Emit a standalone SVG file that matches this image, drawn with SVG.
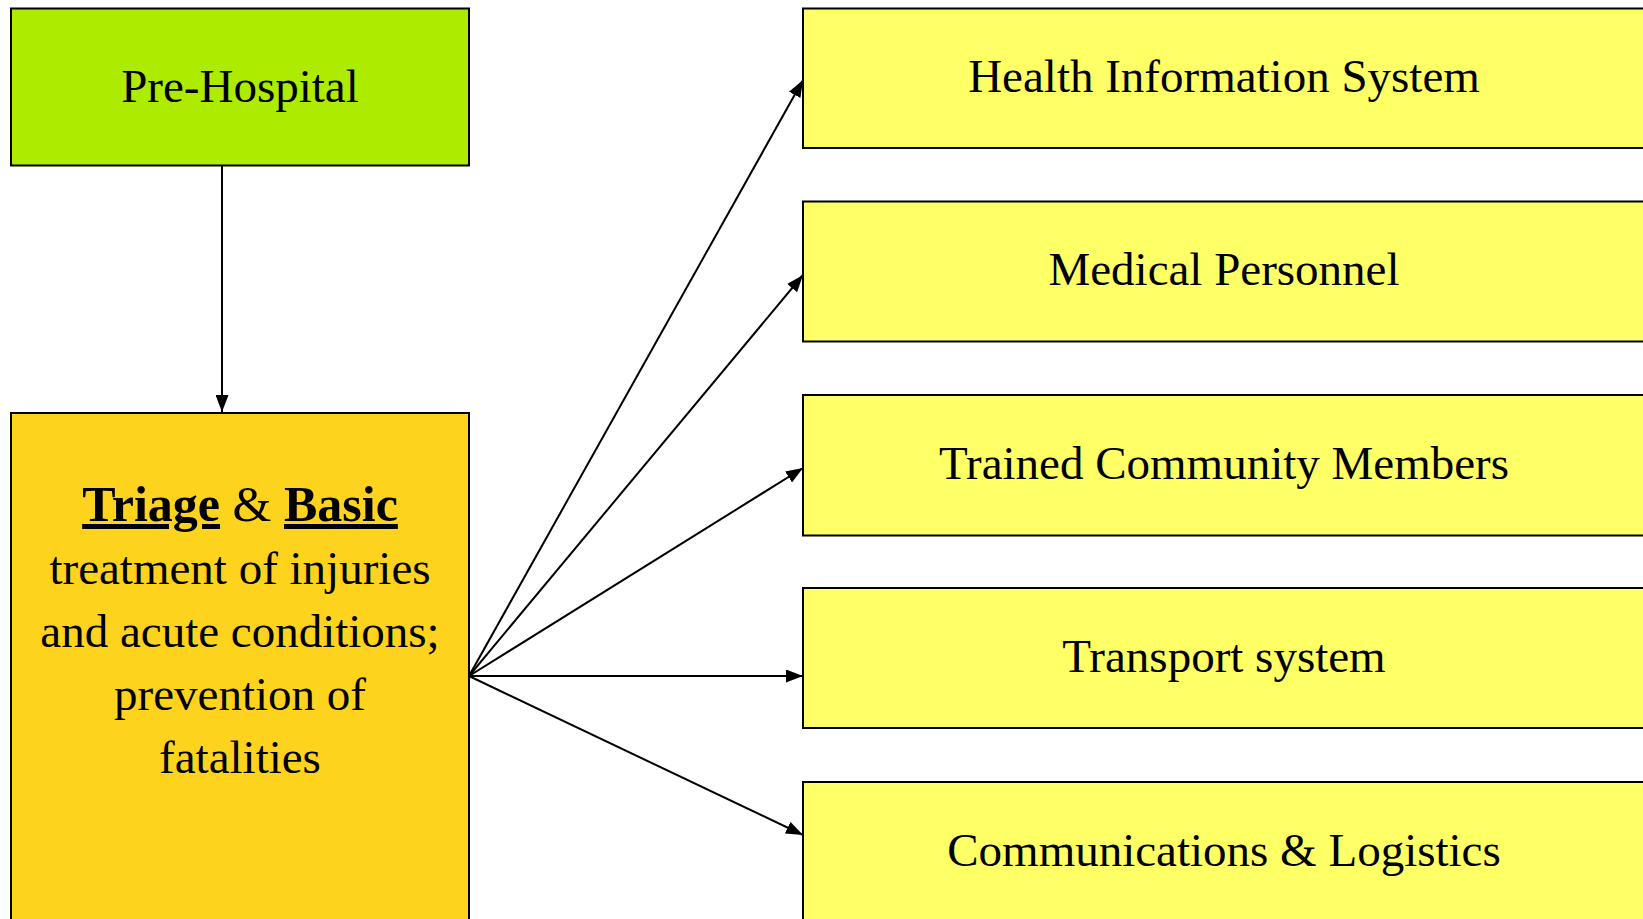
<svg xmlns="http://www.w3.org/2000/svg" width="1643" height="919" viewBox="0 0 1643 919">
<style>
.box{stroke:#000;stroke-width:2}
.lbl{font-family:"Liberation Serif","Times New Roman",serif;font-size:47px;fill:#000;text-anchor:middle}
.big{font-size:50px}
.con{stroke:#000;stroke-width:2;fill:none;marker-end:url(#ah)}
</style>
<defs>
<marker id="ah" viewBox="0 0 17 13" refX="17" refY="6.5" markerWidth="17" markerHeight="13" markerUnits="userSpaceOnUse" orient="auto">
<path d="M0,0 L17,6.5 L0,13 z" fill="#000"/>
</marker>
</defs>
<rect width="1643" height="919" fill="#fff"/>
<g id="connectors">
<line class="con" x1="222" y1="166" x2="222" y2="412"/>
<line class="con" x1="469" y1="676" x2="803" y2="80"/>
<line class="con" x1="469" y1="676" x2="803" y2="275"/>
<line class="con" x1="469" y1="676" x2="803" y2="468"/>
<line class="con" x1="469" y1="676" x2="803" y2="676"/>
<line class="con" x1="469" y1="676" x2="803" y2="835"/>
</g>
<g id="pre-hospital">
<rect class="box" x="11" y="8.5" width="458" height="157" fill="#ADEB00"/>
<text class="lbl" x="240" y="102">Pre-Hospital</text>
</g>
<g id="triage">
<rect class="box" x="11" y="413" width="458" height="520" fill="#FDD31E"/>
<text class="lbl big" x="240" y="521"><tspan font-weight="bold" text-decoration="underline">Triage</tspan> &amp; <tspan font-weight="bold" text-decoration="underline">Basic</tspan></text>
<text class="lbl" x="240" y="584">treatment of injuries</text>
<text class="lbl" x="240" y="647">and acute conditions;</text>
<text class="lbl" x="240" y="710">prevention of</text>
<text class="lbl" x="240" y="773">fatalities</text>
</g>
<g id="his">
<rect class="box" x="803" y="8.5" width="900" height="139.5" fill="#FFFF66"/>
<text class="lbl" x="1224" y="92">Health Information System</text>
</g>
<g id="medical">
<rect class="box" x="803" y="201.5" width="900" height="140" fill="#FFFF66"/>
<text class="lbl" x="1224" y="285">Medical Personnel</text>
</g>
<g id="community">
<rect class="box" x="803" y="395" width="900" height="140.5" fill="#FFFF66"/>
<text class="lbl" x="1224" y="479">Trained Community Members</text>
</g>
<g id="transport">
<rect class="box" x="803" y="588" width="900" height="140" fill="#FFFF66"/>
<text class="lbl" x="1224" y="672">Transport system</text>
</g>
<g id="comms">
<rect class="box" x="803" y="782" width="900" height="160" fill="#FFFF66"/>
<text class="lbl" x="1224" y="866">Communications &amp; Logistics</text>
</g>
</svg>
